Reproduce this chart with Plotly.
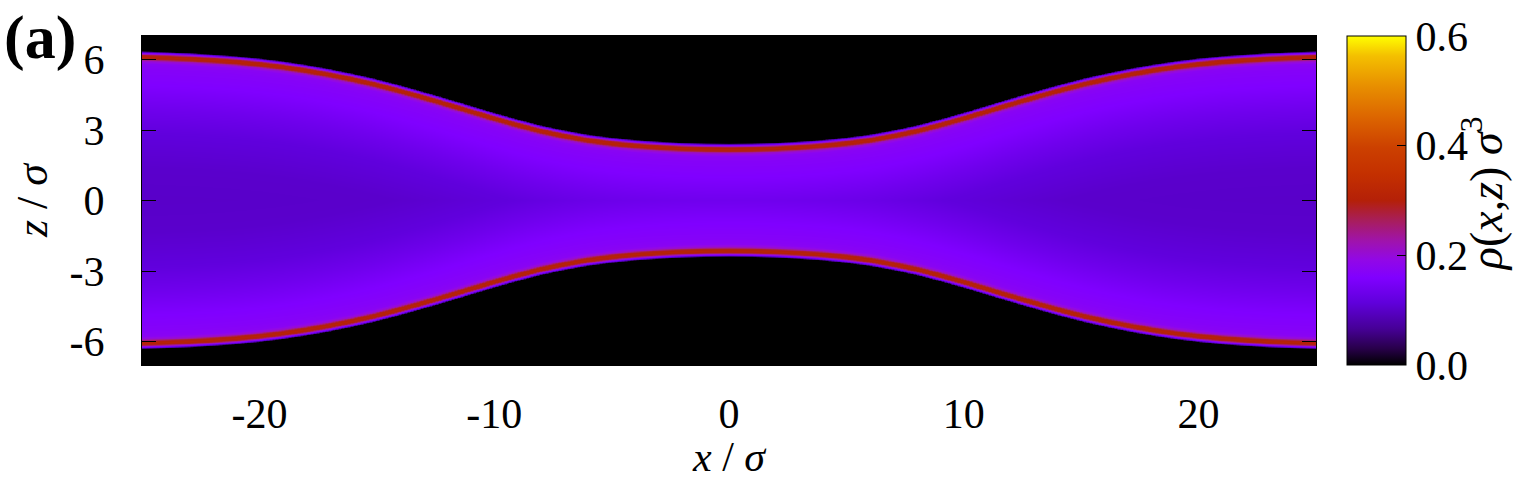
import numpy as np
import plotly.graph_objects as go

# channel wall (outer edge of the fluid), symmetric in x
wall_x = [0, 1, 2, 3, 4, 5, 6, 7, 8, 9, 10, 11, 12, 13,
          14, 15, 16, 17, 18, 19, 20, 21, 22, 23, 24, 25]
wall_z = [2.42, 2.43, 2.46, 2.51, 2.58, 2.68, 2.81, 2.99, 3.2, 3.46, 3.74, 4.04, 4.34, 4.63,
          4.91, 5.17, 5.4, 5.6, 5.78, 5.93, 6.05, 6.15, 6.22, 6.28, 6.32, 6.35]

# density vs distance from the wall
prof_d = [0.0, 0.06, 0.12, 0.18, 0.26, 0.34, 0.42, 0.55, 0.8, 1.5, 2.5, 3.5, 5.0, 7.0]
prof_rho = [0.0, 0.12, 0.21, 0.29, 0.31, 0.29, 0.21, 0.175, 0.168, 0.158, 0.135, 0.115, 0.103, 0.1]

x_ticks = [-20, -10, 0, 10, 20]
z_ticks = [-6, -3, 0, 3, 6]
cb_ticks = [0.0, 0.2, 0.4, 0.6]

# gnuplot-like black -> violet -> red -> yellow palette
palette = [
    [0.0, "#000000"],
    [0.05, "#28004a"],
    [0.11, "#460096"],
    [0.19, "#6000dc"],
    [0.265, "#8000ff"],
    [0.32, "#9208e6"],
    [0.38, "#a014a8"],
    [0.44, "#a81e5a"],
    [0.5, "#b42008"],
    [0.58, "#c43000"],
    [0.66, "#cc4000"],
    [0.75, "#dc6400"],
    [0.85, "#e89000"],
    [0.94, "#f4c000"],
    [1.0, "#ffff00"],
]

FONT = "Liberation Serif"
FS = 42

# density table on a grid, built from the wall and profile readings
gx = np.linspace(-25, 25, 801)
gz = np.linspace(-7, 7, 841)
half = np.interp(np.abs(gx), wall_x, wall_z)
dist = half[None, :] - np.abs(gz)[:, None]
rho = np.interp(dist, prof_d, prof_rho, left=0.0)

fig = go.Figure(
    go.Heatmap(
        x=gx,
        y=gz,
        z=rho,
        zmin=0.0,
        zmax=0.6,
        colorscale=palette,
        colorbar={
            "x": 1.0264,
            "xanchor": "left",
            "xpad": 0,
            "ypad": 0,
            "y": 0.5,
            "len": 1.0,
            "thickness": 59,
            "outlinecolor": "black",
            "outlinewidth": 1,
            "ticks": "inside",
            "ticklen": 9,
            "tickcolor": "black",
            "tickvals": cb_ticks,
            "ticktext": [f"{v:.1f}" for v in cb_ticks],
            "tickfont": {"family": FONT, "size": FS, "color": "black"},
        },
        hoverinfo="skip",
    )
)

axis_common = {
    "showgrid": False,
    "zeroline": False,
    "showline": True,
    "linecolor": "black",
    "linewidth": 1,
    "mirror": "ticks",
    "ticks": "inside",
    "ticklen": 14,
    "tickcolor": "black",
    "tickfont": {"family": FONT, "size": FS, "color": "black"},
}
fig.update_xaxes(
    range=[-25, 25],
    tickvals=x_ticks,
    ticktext=[str(v) for v in x_ticks],
    ticklabelstandoff=12,
    title={"text": "<i>x</i> / <i>σ</i>", "font": {"family": FONT, "size": FS}, "standoff": 16},
    **axis_common,
)
fig.update_yaxes(
    range=[-7, 7],
    tickvals=z_ticks,
    ticktext=[str(v) for v in z_ticks],
    ticklabelstandoff=28,
    title={"text": "<i>z</i> / <i>σ</i>", "font": {"family": FONT, "size": 44}, "standoff": 8},
    **axis_common,
)

fig.add_annotation(
    text="<b>(a)</b>",
    xref="paper",
    yref="paper",
    x=-0.1195,
    y=1.105,
    xanchor="left",
    yanchor="top",
    showarrow=False,
    font={"family": FONT, "size": 62, "color": "black"},
)
fig.add_annotation(
    text="<i>ρ</i>(<i>x</i>,<i>z</i>) <i>σ</i><sup>3</sup>",
    xref="paper",
    yref="paper",
    x=1.168,
    y=0.52,
    textangle=-90,
    showarrow=False,
    font={"family": FONT, "size": 46, "color": "black"},
)

fig.update_layout(
    width=1534,
    height=480,
    margin={"l": 142, "r": 218, "t": 36, "b": 115, "autoexpand": False},
    paper_bgcolor="white",
    plot_bgcolor="black",
    font={"family": FONT, "color": "black"},
)

# the page body has a default 8px margin; drop it so the figure fills the window
fig.write_html(
    "out.html",
    config={"displayModeBar": False},
    post_script="document.body.style.margin = '0';",
)
